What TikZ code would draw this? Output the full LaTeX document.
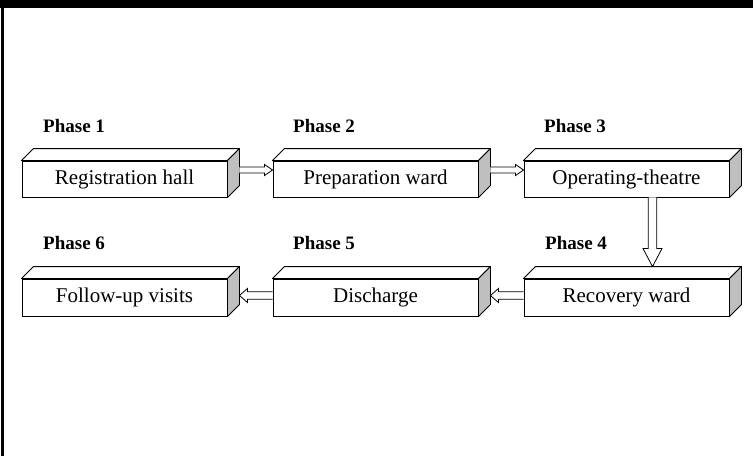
\documentclass[tikz,border=0pt]{standalone}
\usepackage{fontspec}
\setmainfont{Liberation Serif}
\usetikzlibrary{calc}
\tikzset{
  frontbox/.style={draw=black, line width=0.9pt, fill=white, minimum width=205pt, minimum height=36pt, inner sep=0pt, font=\fontsize{21}{25}\selectfont},
  topface/.style={draw=black, line width=0.9pt, fill=white, line join=round},
  sideface/.style={draw=black, line width=0.9pt, fill=black!25, line join=round},
  phaselabel/.style={anchor=base west, inner sep=0pt, font=\fontsize{19}{23}\selectfont\bfseries},
  arr/.style={draw=black, line width=0.8pt, fill=white, line join=miter}
}
\newcommand\cuboid[1]{%
  \draw[topface] (#1.north west) -- ++(12,12) -- ($(#1.north east)+(12,12)$) -- (#1.north east) -- cycle;
  \draw[sideface] (#1.north east) -- ++(12,12) -- ($(#1.south east)+(12,12)$) -- (#1.south east) -- cycle;
}
% right-pointing hollow arrow: from, to, y offset, shaft half, head half, head length
\newcommand\rarrow[6]{%
  \draw[arr] let \p1=($(#1.east)+(12,#3)$), \p2=(#2.west) in
    (\x1,\y1+#4) -- (\x2-#6,\y1+#4) -- (\x2-#6,\y1+#5) -- (\x2,\y1) -- (\x2-#6,\y1-#5) -- (\x2-#6,\y1-#4) -- (\x1,\y1-#4);
}
% left-pointing hollow arrow: from (right box), to (left box)
\newcommand\larrow[6]{%
  \draw[arr] let \p1=($(#1.west)+(0,#3)$), \p2=($(#2.east)+(12,0)$) in
    (\x1,\y1+#4) -- (\x2+#6,\y1+#4) -- (\x2+#6,\y1+#5) -- (\x2,\y1) -- (\x2+#6,\y1-#5) -- (\x2+#6,\y1-#4) -- (\x1,\y1-#4);
}
\begin{document}
\begin{tikzpicture}[x=1pt,y=1pt]
\useasboundingbox (0,0) rectangle (753,-456);
\fill[white] (0,0) rectangle (753,-456);
\fill[black] (0,0) rectangle (753,-7.5);
\fill[black] (1,0) rectangle (3.5,-456);

% row 1
\node[frontbox] (b1) at (124.5,-179) {Registration hall};
\node[frontbox] (b2) at (375.5,-179) {Preparation ward};
\node[frontbox] (b3) at (626.5,-179) {Operating-theatre};
% row 2
\node[frontbox, minimum height=37pt] (b6) at (124.5,-297.5) {Follow-up visits};
\node[frontbox, minimum height=37pt] (b5) at (375.5,-297.5) {Discharge};
\node[frontbox, minimum height=37pt] (b4) at (626.5,-297.5) {Recovery ward};

\cuboid{b1}\cuboid{b2}\cuboid{b3}\cuboid{b4}\cuboid{b5}\cuboid{b6}

% phase labels
\node[phaselabel] (p1) at (43,-132) {Phase 1};
\node[phaselabel] (p2) at (293,-132) {Phase 2};
\node[phaselabel] (p3) at (544,-132) {Phase 3};
\node[phaselabel] (p6) at (43,-249) {Phase 6};
\node[phaselabel] (p5) at (293,-249) {Phase 5};
\node[phaselabel] (p4) at (545,-249) {Phase 4};

% arrows
\rarrow{b1}{b2}{9}{3}{5.5}{8}
\rarrow{b2}{b3}{9}{3}{5.5}{8}
\larrow{b5}{b6}{2}{3.8}{7}{8}
\larrow{b4}{b5}{2}{3.8}{7}{8}
\draw[arr] let \p1=($(b3.south)+(26,0)$), \p2=($(b4.north)+(0,12)$) in
  (\x1-4.2,\y1) -- (\x1-4.2,\y2+18) -- (\x1-9.5,\y2+18) -- (\x1,\y2) -- (\x1+9.5,\y2+18) -- (\x1+4.2,\y2+18) -- (\x1+4.2,\y1);
\end{tikzpicture}
\end{document}
